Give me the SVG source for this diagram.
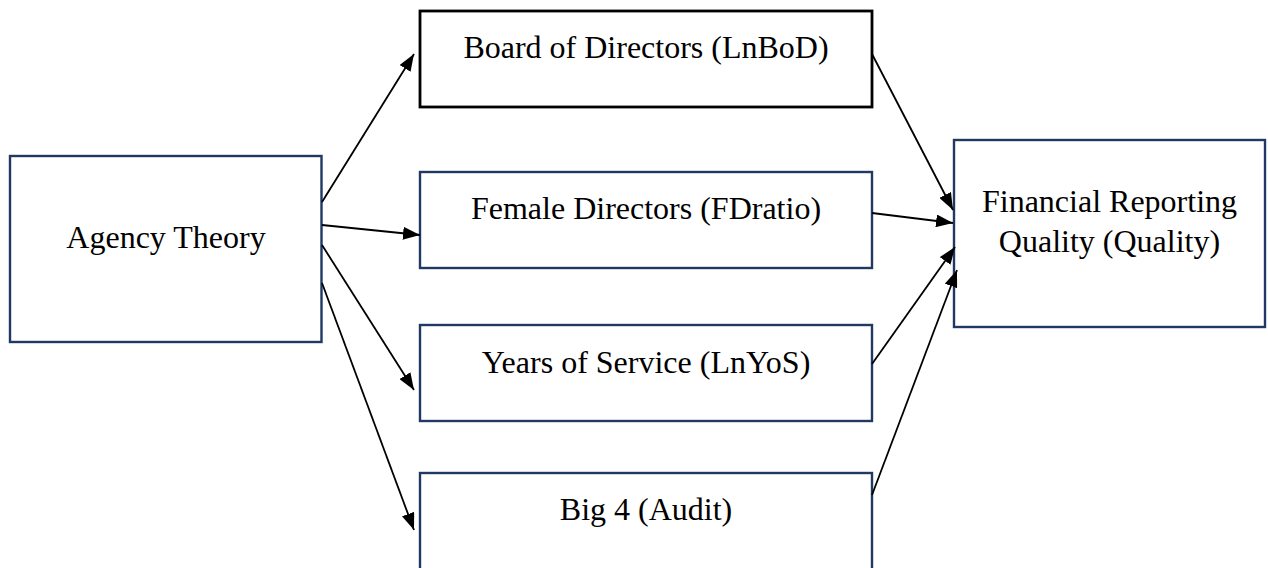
<svg xmlns="http://www.w3.org/2000/svg" width="1268" height="568" viewBox="0 0 1268 568">
<defs>
<style>
.box{fill:#fff;stroke:#1f3864;stroke-width:2.4}
.box.blk{stroke:#000;stroke-width:2.8}
text{font-family:"Liberation Serif","Times New Roman",serif;font-size:32px;fill:#000;text-anchor:middle}
.c line{stroke:#000;stroke-width:1.8;marker-end:url(#ah)}
</style>
<marker id="ah" markerUnits="userSpaceOnUse" markerWidth="17" markerHeight="13" refX="17" refY="6.5" orient="auto" viewBox="0 0 17 13">
<path d="M0,0 L17,6.5 L0,13 z" fill="#000"/>
</marker>
</defs>
<rect width="1268" height="568" fill="#fff"/>
<g id="agency"><rect class="box" x="10" y="156" width="311.5" height="186"/><text x="166" y="248">Agency Theory</text></g>
<g id="board"><rect class="box blk" x="420" y="11" width="452" height="96"/><text x="646" y="58">Board of Directors (LnBoD)</text></g>
<g id="female"><rect class="box" x="420" y="172" width="452" height="96"/><text x="646" y="219">Female Directors (FDratio)</text></g>
<g id="years"><rect class="box" x="420" y="325" width="452" height="96"/><text x="646" y="373">Years of Service (LnYoS)</text></g>
<g id="big4"><rect class="box" x="420" y="473" width="452" height="110"/><text x="646" y="520">Big 4 (Audit)</text></g>
<g id="frq"><rect class="box" x="954" y="140" width="311" height="187"/><text x="1109.5" y="212">Financial Reporting</text><text x="1109.5" y="252">Quality (Quality)</text></g>
<g id="connectors" class="c">
<line x1="322" y1="202" x2="414" y2="54"/>
<line x1="322" y1="225" x2="420" y2="235"/>
<line x1="322" y1="245" x2="414" y2="390"/>
<line x1="322" y1="283" x2="414" y2="530"/>
<line x1="872" y1="54" x2="953" y2="210"/>
<line x1="872" y1="213" x2="953" y2="223"/>
<line x1="872" y1="364" x2="955" y2="247"/>
<line x1="872" y1="495" x2="957" y2="270"/>
</g>
</svg>
